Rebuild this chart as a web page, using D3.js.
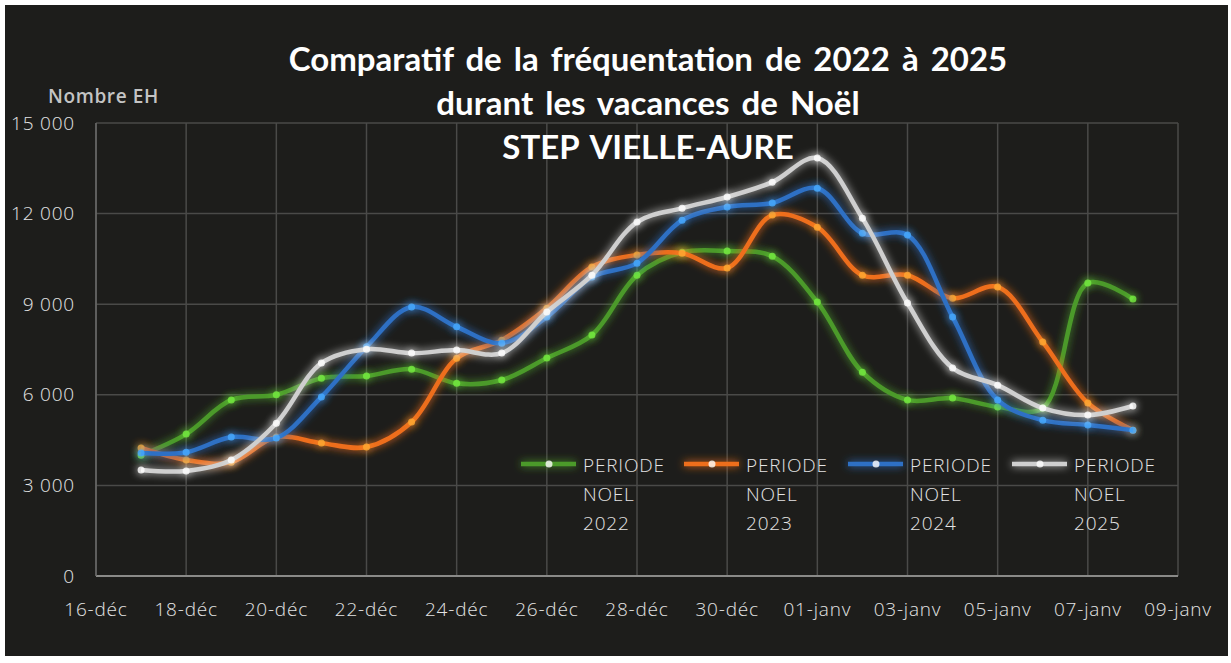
<!DOCTYPE html>
<html>
<head>
<meta charset="utf-8">
<script src="https://cdn.jsdelivr.net/npm/d3@7"></script>
<style>
  body { margin: 0; background: #fff; }
  svg { display: block; }
</style>
</head>
<body>
<div id="chart"></div>
<script>
// day labels, 17-déc -> 08-janv
const days = ["17-déc","18-déc","19-déc","20-déc","21-déc","22-déc","23-déc","24-déc","25-déc","26-déc","27-déc","28-déc",
  "29-déc","30-déc","31-déc","01-janv","02-janv","03-janv","04-janv","05-janv","06-janv","07-janv","08-janv"];
const seriesNames = ["PERIODE NOEL 2022", "PERIODE NOEL 2023", "PERIODE NOEL 2024", "PERIODE NOEL 2025"];
const noel2022 = [4000, 4700, 5830, 6000, 6550, 6620, 6850, 6380, 6490, 7220, 7980, 9960, 10720, 10760, 10590, 9070, 6750, 5830, 5890, 5600, 5560, 9700, 9170];
const noel2023 = [4240, 3840, 3770, 4600, 4400, 4270, 5100, 7210, 7810, 8870, 10230, 10630, 10690, 10200, 11950, 11550, 9960, 9960, 9200, 9570, 7750, 5730, 4830];
const noel2024 = [4070, 4100, 4600, 4570, 5930, 7590, 8910, 8250, 7710, 8580, 9900, 10360, 11780, 12220, 12350, 12840, 11350, 11290, 8580, 5830, 5160, 5000, 4830];
const noel2025 = [3510, 3480, 3840, 5060, 7050, 7510, 7380, 7480, 7380, 8740, 9960, 11720, 12180, 12550, 13040, 13840, 11850, 9040, 6890, 6320, 5560, 5330, 5630];
const yTicks = [0, 3000, 6000, 9000, 12000, 15000];
const xTickLabels = ["16-déc","18-déc","20-déc","22-déc","24-déc","26-déc","28-déc","30-déc","01-janv","03-janv","05-janv","07-janv","09-janv"];

const colors = ["#4c9a2a", "#ee6e1f", "#2e6fc4", "#cfcfcf"];
const allSeries = [noel2022, noel2023, noel2024, noel2025];

const W = 1231, H = 663;
const svg = d3.select("#chart").append("svg").attr("width", W).attr("height", H);

// glow filter (user space so flat legend lines still render)
const defs = svg.append("defs");
const glow = defs.append("filter").attr("id", "glow").attr("filterUnits", "userSpaceOnUse")
  .attr("x", 0).attr("y", 0).attr("width", W).attr("height", H);
glow.append("feGaussianBlur").attr("stdDeviation", 4).attr("result", "b");
const m = glow.append("feMerge");
m.append("feMergeNode").attr("in", "b");
m.append("feMergeNode").attr("in", "SourceGraphic");

// dark panel
svg.append("rect").attr("x", 5).attr("y", 5).attr("width", 1223).attr("height", 651)
  .attr("fill", "#1d1d1b");

const plot = { left: 96, right: 1178, top: 123, bottom: 576 };

// x: day index, 0 = 16-déc
const x = d3.scaleLinear().domain([0, 24]).range([plot.left, plot.right]);
const y = d3.scaleLinear().domain([0, 15000]).range([plot.bottom, plot.top]);

const fmt = v => d3.format(",")(v).replace(/,/g, " ");
const tickFont = sel => sel.style("font-family", "'Open Sans', sans-serif").style("font-weight", 300)
  .style("font-size", "19px").style("letter-spacing", "0.8px").attr("fill", "#e4e4e4");

// grid
const g = svg.append("g");
g.selectAll(".hg").data(yTicks).join("line")
  .attr("x1", plot.left).attr("x2", plot.right)
  .attr("y1", d => y(d)).attr("y2", d => y(d))
  .attr("stroke", "#4a4a48").attr("stroke-width", 1.5);
g.selectAll(".vg").data(xTickLabels).join("line")
  .attr("x1", (d, i) => x(i * 2)).attr("x2", (d, i) => x(i * 2))
  .attr("y1", plot.top).attr("y2", plot.bottom)
  .attr("stroke", "#4a4a48").attr("stroke-width", 1.5);
// axis lines
g.append("line").attr("x1", plot.left).attr("x2", plot.right).attr("y1", plot.bottom).attr("y2", plot.bottom)
  .attr("stroke", "#8a8a88").attr("stroke-width", 2);
g.append("line").attr("x1", plot.left).attr("x2", plot.left).attr("y1", plot.top).attr("y2", plot.bottom)
  .attr("stroke", "#6a6a68").attr("stroke-width", 1.5);

// y ticks
svg.append("g").selectAll("text").data(yTicks).join("text")
  .attr("x", 75).attr("y", d => y(d)).attr("dy", "0.35em")
  .attr("text-anchor", "end").call(tickFont)
  .text(fmt);

// x ticks
svg.append("g").selectAll("text").data(xTickLabels).join("text")
  .attr("x", (d, i) => x(i * 2)).attr("y", 616)
  .attr("text-anchor", "middle").call(tickFont)
  .text(d => d);

// y label
svg.append("text").attr("x", 48).attr("y", 103).attr("fill", "#c4c4c4")
  .style("font-family", "'Open Sans', sans-serif").style("font-weight", 600).style("font-size", "19px")
  .style("letter-spacing", "0.6px")
  .text("Nombre EH");

// title
const titleLines = ["Comparatif de la fréquentation de 2022 à 2025", "durant les vacances de Noël", "STEP VIELLE-AURE"];
svg.append("g").selectAll("text").data(titleLines).join("text")
  .attr("x", 648).attr("y", (d, i) => 71 + i * 44)
  .attr("text-anchor", "middle").attr("fill", "#ffffff")
  .style("font-family", "Lato, sans-serif").style("font-weight", 700).style("font-size", "33px")
  .style("word-spacing", "4px")
  .text(d => d);

// lines
const line = d3.line().x((d, i) => x(i + 1)).y(d => y(d)).curve(d3.curveCatmullRom.alpha(0.5));
const lg = svg.append("g");
allSeries.forEach((s, k) => {
  lg.append("path").datum(s).attr("d", line)
    .attr("fill", "none").attr("stroke", colors[k]).attr("stroke-width", 4.5)
    .attr("filter", "url(#glow)");
  lg.append("g").selectAll("circle").data(s).join("circle")
    .attr("cx", (d, i) => x(i + 1)).attr("cy", d => y(d)).attr("r", 3.5)
    .attr("fill", k === 3 ? "#ffffff" : d3.color(colors[k]).brighter(1.2))
    .attr("opacity", 0.85)
    .attr("filter", "url(#glow)");
});

// legend
const legX = [521, 684, 848, 1012];
const leg = svg.append("g");
seriesNames.forEach((name, k) => {
  const lx = legX[k];
  leg.append("line").attr("x1", lx).attr("x2", lx + 55).attr("y1", 464).attr("y2", 464)
    .attr("stroke", colors[k]).attr("stroke-width", 4.5).attr("filter", "url(#glow)");
  leg.append("circle").attr("cx", lx + 28).attr("cy", 464).attr("r", 3.5)
    .attr("fill", "#ffffff").attr("opacity", 0.8);
  const parts = name.split(" ");
  leg.append("g").selectAll("text").data(parts).join("text")
    .attr("x", lx + 62).attr("y", (d, i) => 472 + i * 29)
    .call(tickFont)
    .text(d => d);
});
</script>
</body>
</html>
